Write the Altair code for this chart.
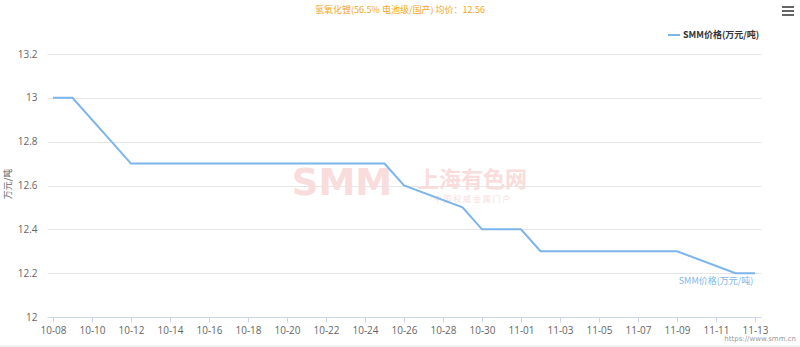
import altair as alt
import pandas as pd

# ---- data ----
dates = ["10-08", "10-09", "10-12", "10-25", "10-26", "10-29",
         "10-30", "11-01", "11-02", "11-09", "11-12", "11-13"]
prices = [13.0, 13.0, 12.7, 12.7, 12.6, 12.5,
          12.4, 12.4, 12.3, 12.3, 12.2, 12.2]
tick_labels = ["10-08", "10-10", "10-12", "10-14", "10-16", "10-18", "10-20",
               "10-22", "10-24", "10-26", "10-28", "10-30", "11-01", "11-03",
               "11-05", "11-07", "11-09", "11-11", "11-13"]
y_ticks = [12.0, 12.2, 12.4, 12.6, 12.8, 13.0, 13.2]
series_name = "SMM价格(万元/吨)"
title_text = "氢氧化锂(56.5% 电池级/国产) 均价：12.56"
y_title = "万元/吨"

start = pd.Timestamp("2024-10-08")
day_idx = [(pd.Timestamp("2024-" + d) - start).days for d in dates]
tick_idx = [(pd.Timestamp("2024-" + d) - start).days for d in tick_labels]
df = pd.DataFrame({"day": day_idx, "price": prices})

W, H = 714, 263
pad_days = 6 / 19.5
xdom = [min(tick_idx) - pad_days, max(tick_idx) + pad_days]

label_arr = "[" + ",".join("'%s'" % t for t in tick_labels) + "]"

base = alt.Chart(df)

line = base.mark_line(color="#7cb5ec", strokeWidth=2, clip=False).encode(
    x=alt.X("day:Q", scale=alt.Scale(domain=xdom, nice=False, zero=False),
            axis=alt.Axis(values=tick_idx, labelExpr=label_arr + "[round(datum.value/2)]",
                          title=None, grid=False, domainColor="#ccd6eb", tickColor="#ccd6eb",
                          tickSize=5, labelColor="#666666", labelFontSize=10,
                          labelPadding=3, labelFont="Open Sans")),
    y=alt.Y("price:Q", scale=alt.Scale(domain=[12, 13.2], nice=False, zero=False),
            axis=alt.Axis(values=y_ticks, format=".1~f", title=None, domain=False, ticks=False,
                          gridColor="#e6e6e6", labelColor="#666666", labelFontSize=10,
                          labelPadding=10, labelFont="Open Sans")),
)

def txt(text, x, y, **kw):
    return alt.Chart(pd.DataFrame({"t": [text]})).mark_text(**kw).encode(
        text="t:N", x=alt.value(x), y=alt.value(y))

font = "Noto Sans CJK SC"
wm_color = "#f9dcdc"
watermark = [
    txt("SMM", 295, 130, font="DejaVu Sans", fontSize=37, fontWeight=900,
        color=wm_color, align="center", baseline="middle"),
    txt("上海有色网", 425, 126, font=font, fontSize=22, fontWeight="bold",
        color=wm_color, align="center", baseline="middle"),
    txt("中 国 权 威 金 属 门 户", 425, 146, font=font, fontSize=8,
        color=wm_color, align="center", baseline="middle"),
]

decor = [
    txt(title_text, 353, -44, font=font, fontSize=9, color="#f5a623",
        align="center", baseline="middle"),
    txt(series_name, 636, -19, font=font, fontSize=9, fontWeight="bold", color="#333333",
        align="left", baseline="middle"),
    txt(series_name, 669, 227, font=font, fontSize=9, color="#7cb5ec",
        align="center", baseline="middle"),
    txt(y_title, -39, 130, font=font, fontSize=9, color="#666666", angle=270,
        align="center", baseline="middle"),
    txt("https://www.smm.cn", 749, 285, font="DejaVu Sans", fontSize=7, color="#999999",
        align="right", baseline="middle"),
]

def hrule(x1, x2, y, color, sw):
    return alt.Chart(pd.DataFrame({"a": [0]})).mark_rule(color=color, strokeWidth=sw).encode(
        x=alt.value(x1), x2=alt.value(x2), y=alt.value(y))

legend_sym = hrule(621, 633, -19, "#7cb5ec", 2)
menu = [hrule(735, 747, yy, "#666666", 2) for yy in (-47, -43, -39)]
bottom_rule = hrule(-47, 753, 292, "#e6e6e6", 1)

chart = alt.layer(*watermark, line, *decor, legend_sym, *menu, bottom_rule).properties(
    width=W, height=H,
    padding={"left": 47, "top": 54, "right": 39, "bottom": 30},
    autosize=alt.AutoSizeParams(type="none"),
    background="white",
).configure_view(stroke=None)

chart.save("out.html", embed_options={"renderer": "svg", "actions": False})
